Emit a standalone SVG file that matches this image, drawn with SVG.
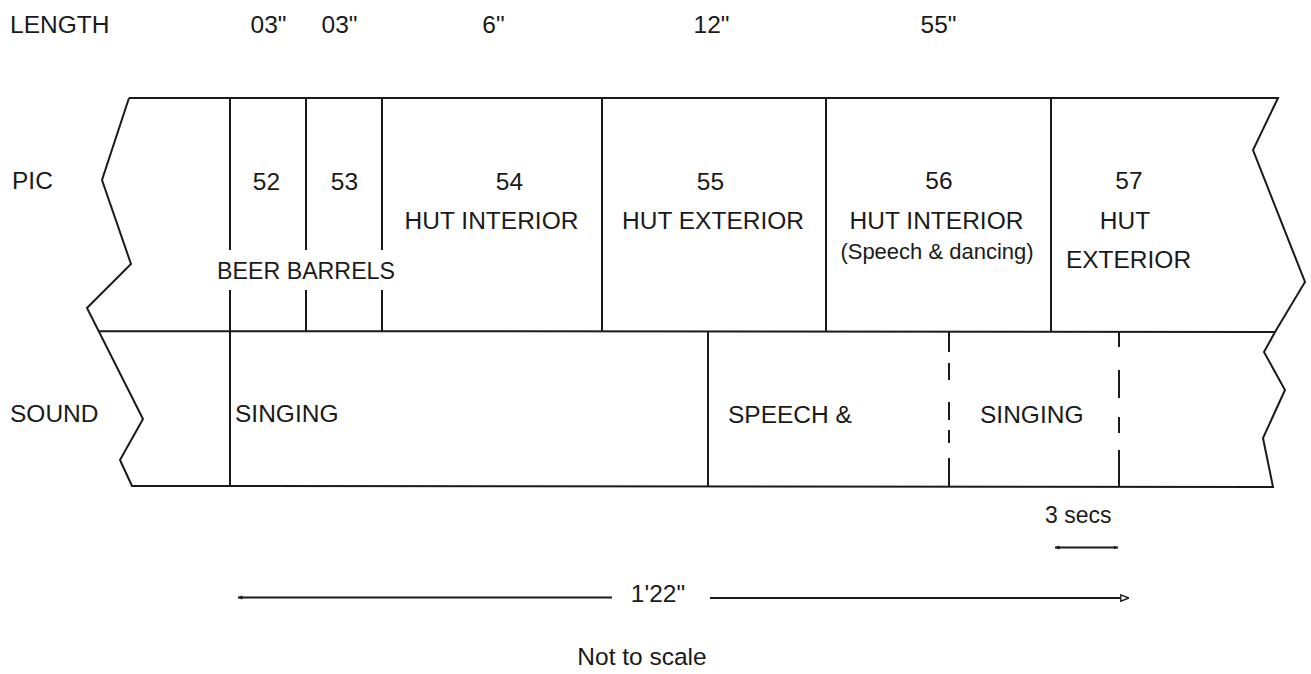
<svg xmlns="http://www.w3.org/2000/svg" width="1311" height="674" viewBox="0 0 1311 674">
<defs>
<style>
.ln{stroke:#1a1a1a;stroke-width:2;fill:none;stroke-linejoin:miter}
.t{font-family:"Liberation Sans",Arial,Helvetica,sans-serif;font-size:24.5px;fill:#1a1a1a}
.s{font-size:22px}
.m{text-anchor:middle}
</style>
<marker id="ah" viewBox="0 0 10 10" refX="9" refY="5" markerWidth="5" markerHeight="5" orient="auto-start-reverse" markerUnits="userSpaceOnUse">
<path d="M0,1 L10,5 L0,9 z" fill="#1a1a1a"/>
</marker>
<marker id="ah2" viewBox="0 0 10 10" refX="9" refY="5" markerWidth="9" markerHeight="9" orient="auto" markerUnits="userSpaceOnUse">
<path d="M1,1.5 L10,5 L1,8.5 z" fill="#fff" stroke="#1a1a1a" stroke-width="1.5"/>
</marker>
</defs>
<rect width="1311" height="674" fill="#fff"/>

<g id="row-labels">
<text class="t" x="10" y="33">LENGTH</text>
<text class="t" x="12" y="189">PIC</text>
<text class="t" x="10" y="422">SOUND</text>
</g>

<g id="lengths">
<text class="t m" x="268.5" y="33">03"</text>
<text class="t m" x="339.5" y="33">03"</text>
<text class="t m" x="493.5" y="33">6"</text>
<text class="t m" x="711.5" y="33">12"</text>
<text class="t m" x="938.5" y="33">55"</text>
</g>

<g id="pic-band">
<path class="ln" d="M129,98 L1278,98 L1253,150 L1305,282 L1275,332"/>
<path class="ln" d="M129,98 L102,180 L131,264 L87,308 L143,419 L120,460 L132,486 L1273,487 L1263,438 L1285,390 L1264,352 L1275,332 L99,331"/>
</g>

<g id="connectors">
<path class="ln" d="M230,98 V250 M230,290 V487"/>
<path class="ln" d="M306,98 V250 M306,290 V331"/>
<path class="ln" d="M382,98 V250 M382,290 V331"/>
<path class="ln" d="M602,98 V331"/>
<path class="ln" d="M826,98 V331"/>
<path class="ln" d="M1051,98 V331"/>
<path class="ln" d="M708,331 V487"/>
<path class="ln" d="M949,332 V352 M949,363 V380 M949,402 V420 M949,430 V443 M949,458 V487"/>
<path class="ln" d="M1119,332 V347 M1119,370 V398 M1119,417 V433 M1119,450 V487"/>
<line class="ln" x1="1055" y1="547.5" x2="1118" y2="547.5" marker-start="url(#ah)" marker-end="url(#ah)"/>
<line class="ln" x1="238" y1="597.5" x2="612" y2="597.5" marker-start="url(#ah)"/>
<line class="ln" x1="710" y1="598" x2="1128" y2="598" marker-end="url(#ah2)"/>
</g>

<g id="shot-52"><text class="t m" x="266.5" y="190">52</text></g>
<g id="shot-53"><text class="t m" x="344.5" y="190">53</text></g>
<g id="beer-barrels"><text class="t" x="217" y="279" textLength="178" lengthAdjust="spacingAndGlyphs">BEER BARRELS</text></g>
<g id="shot-54">
<text class="t m" x="509.5" y="190">54</text>
<text class="t m" x="491.5" y="229">HUT INTERIOR</text>
</g>
<g id="shot-55">
<text class="t m" x="710.5" y="190">55</text>
<text class="t m" x="713" y="229">HUT EXTERIOR</text>
</g>
<g id="shot-56">
<text class="t m" x="939" y="189">56</text>
<text class="t m" x="936.5" y="229">HUT INTERIOR</text>
<text class="t s m" x="937" y="259">(Speech &amp; dancing)</text>
</g>
<g id="shot-57">
<text class="t m" x="1129" y="189">57</text>
<text class="t m" x="1125" y="229">HUT</text>
<text class="t m" x="1128.5" y="268">EXTERIOR</text>
</g>

<g id="sound-singing-1"><text class="t" x="235" y="422">SINGING</text></g>
<g id="sound-speech"><text class="t" x="728" y="423">SPEECH &amp;</text></g>
<g id="sound-singing-2"><text class="t" x="980" y="423">SINGING</text></g>

<g id="scale">
<text class="t" x="1045" y="523" style="font-size:23px">3 secs</text>
<text class="t m" x="658" y="602">1'22"</text>
<text class="t m" x="642" y="665">Not to scale</text>
</g>
</svg>
